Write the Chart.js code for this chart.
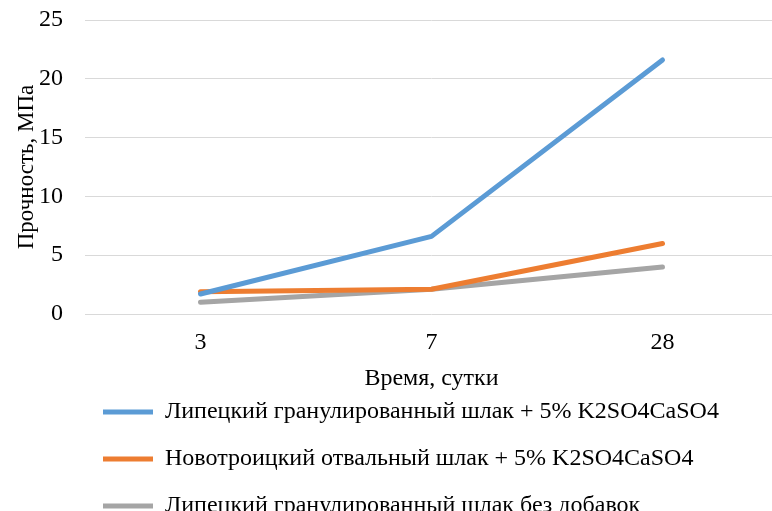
<!DOCTYPE html>
<html>
<head>
<meta charset="utf-8">
<script src="https://cdn.jsdelivr.net/npm/chart.js@4.4.0/dist/chart.umd.min.js"></script>
<style>
    body { margin: 0; overflow: hidden; background: #fff; }
    #wrap { width: 778px; height: 528px; }
</style>
</head>
<body>
<div id="wrap"><canvas id="myChart" width="778" height="528"></canvas></div>
<script>
// data
const days = ["3", "7", "28"];
const lipetskAdd = [1.7, 6.6, 21.6];
const novotroitskAdd = [1.9, 2.1, 6.0];
const lipetskPlain = [1.0, 2.1, 4.0];
const seriesNames = [
    "Липецкий гранулированный шлак + 5% K2SO4CaSO4",
    "Новотроицкий отвальный шлак + 5% K2SO4CaSO4",
    "Липецкий гранулированный шлак без добавок"
];
const yTicks = [0, 5, 10, 15, 20, 25];

const serif = "'Liberation Serif', 'Times New Roman', serif";

// push legend rows to the right like the original
const legendShift = {
    id: "legendShift",
    afterLayout(chart) {
        chart.legend.left = 80;
    }
};

function makeSet(label, data, color) {
    return {
        label: label,
        data: data,
        borderColor: color,
        backgroundColor: color,
        borderWidth: 5,
        borderCapStyle: "round",
        borderJoinStyle: "round",
        pointRadius: 0,
        tension: 0,
        fill: false
    };
}

const ctx = document.getElementById("myChart").getContext("2d");
new Chart(ctx, {
    type: "line",
    data: {
        labels: days,
        datasets: [
            makeSet(seriesNames[0], lipetskAdd, "#5B9BD5"),
            makeSet(seriesNames[1], novotroitskAdd, "#ED7D31"),
            makeSet(seriesNames[2], lipetskPlain, "#A5A5A5")
        ]
    },
    options: {
        responsive: false,
        animation: false,
        devicePixelRatio: 1,
        layout: {padding: {top: 20, left: 0, right: 0, bottom: 0}},
        plugins: {
            tooltip: {enabled: false},
            legend: {
                position: "bottom",
                align: "start",
                labels: {
                    usePointStyle: true,
                    pointStyle: "line",
                    pointStyleWidth: 50,
                    padding: 23,
                    color: "#000",
                    font: {family: serif, size: 24}
                }
            }
        },
        scales: {
            x: {
                offset: true,
                grid: {display: false},
                border: {display: false},
                ticks: {color: "#000", padding: 6, font: {family: serif, size: 24}},
                title: {
                    display: true,
                    text: "Время, сутки",
                    color: "#000",
                    font: {family: serif, size: 24},
                    padding: {top: 0, bottom: -16}
                },
                afterFit(scale) { scale.height = 63; }
            },
            y: {
                min: yTicks[0],
                max: yTicks[yTicks.length - 1],
                grid: {color: "#D9D9D9", lineWidth: 1, drawTicks: false},
                border: {display: false},
                afterBuildTicks(scale) {
                    scale.ticks = yTicks.map(v => ({value: v}));
                },
                ticks: {color: "#000", padding: 22, font: {family: serif, size: 24}},
                title: {
                    display: true,
                    text: "Прочность, МПа",
                    color: "#000",
                    font: {family: serif, size: 23},
                    padding: {top: 13, bottom: 0}
                },
                afterFit(scale) {
                    scale.width = 85;
                    scale.paddingTop = 0;
                    scale.paddingBottom = 0;
                }
            }
        }
    },
    plugins: [legendShift]
});
</script>
</body>
</html>
